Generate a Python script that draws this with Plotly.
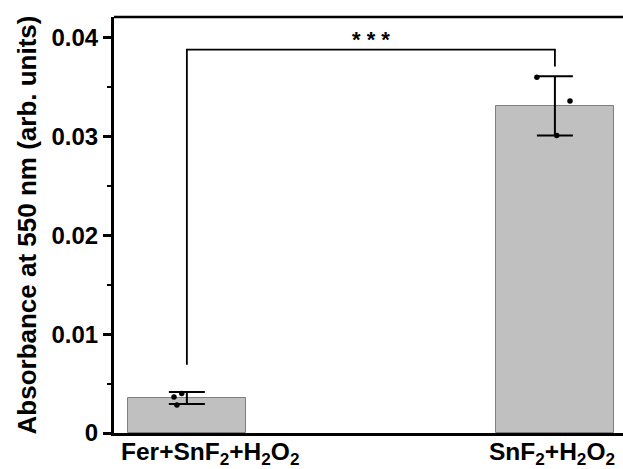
import plotly.graph_objects as go

# Absorbance at 550 nm for the two treatment groups
groups = ["Fer+SnF<sub>2</sub>+H<sub>2</sub>O<sub>2</sub>", "SnF<sub>2</sub>+H<sub>2</sub>O<sub>2</sub>"]
group_pos = [0, 1]
means = [0.00354, 0.0331]
errors = [0.0006, 0.003]

# individual replicates (x jitter around each group position)
rep_x = [-0.035, -0.014, -0.027, 0.951, 1.041, 1.005]
rep_y = [0.00365, 0.0040, 0.00284, 0.0360, 0.0336, 0.0301]

y_ticks = [0, 0.01, 0.02, 0.03, 0.04]
y_ticktext = ["0", "0.01", "0.02", "0.03", "0.04"]

# significance bracket levels
bracket_top = 0.0388
bracket_left_end = 0.0069
bracket_right_end = 0.0371
sig_label = "* * *"

FONT = "Liberation Sans, Arial, sans-serif"

fig = go.Figure()
fig.add_trace(go.Bar(
    x=group_pos, y=means, width=0.32,
    marker=dict(color="#c0c0c0", line=dict(color="#7f7f7f", width=1)),
    error_y=dict(type="data", array=errors, visible=True,
                 color="black", thickness=2, width=18),
    showlegend=False,
))
fig.add_trace(go.Scatter(
    x=rep_x, y=rep_y, mode="markers",
    marker=dict(color="black", size=5.5),
    showlegend=False,
))

# bracket between the two groups
fig.add_shape(type="path",
              path=f"M {group_pos[0]},{bracket_left_end} L {group_pos[0]},{bracket_top} "
                   f"L {group_pos[1]},{bracket_top} L {group_pos[1]},{bracket_right_end}",
              xref="x", yref="y", line=dict(color="black", width=1.8))
fig.add_annotation(x=(group_pos[0] + group_pos[1]) / 2, y=bracket_top,
                   xref="x", yref="y", text=sig_label, showarrow=False,
                   yanchor="bottom", yshift=-4,
                   font=dict(family=FONT, size=22, color="black", weight="bold"))

# group labels under the axis (first one nudged right to stay inside the frame)
label_shift = [23, -3]
for xp, name, dx in zip(group_pos, groups, label_shift):
    fig.add_annotation(x=xp, y=0, xref="x", yref="paper", text=name,
                       showarrow=False, yanchor="top", yshift=-3, xshift=dx,
                       font=dict(family=FONT, size=24.5, color="black", weight="bold"))

fig.update_layout(
    width=623, height=469,
    margin=dict(l=114, r=0, t=17, b=36),
    paper_bgcolor="white", plot_bgcolor="white",
    font=dict(family=FONT, color="black"),
    bargap=0,
)
fig.update_xaxes(
    range=[-0.198, 1.185], tickvals=group_pos, showticklabels=False,
    showline=True, linecolor="black", linewidth=3, mirror=False,
    ticks="", showgrid=False, zeroline=False, automargin=False,
)
fig.update_yaxes(
    range=[0, 0.0421], tickvals=y_ticks, ticktext=y_ticktext,
    showline=True, linecolor="black", linewidth=3, mirror=False,
    ticks="outside", ticklen=8, tickwidth=2.5, tickcolor="black",
    minor=dict(ticks="outside", ticklen=4, tickwidth=2, tickcolor="black", dtick=0.005),
    showgrid=False, zeroline=False, automargin=False,
    tickfont=dict(family=FONT, size=24, color="black", weight="bold"),
    title=dict(text="Absorbance at 550 nm (arb. units)", standoff=8,
               font=dict(family=FONT, size=26, color="black", weight="bold")),
)
# top frame line
fig.add_shape(type="line", xref="paper", yref="paper", x0=0, x1=1, y0=1, y1=1,
              line=dict(color="black", width=2.5))

fig.write_html("out.html")
